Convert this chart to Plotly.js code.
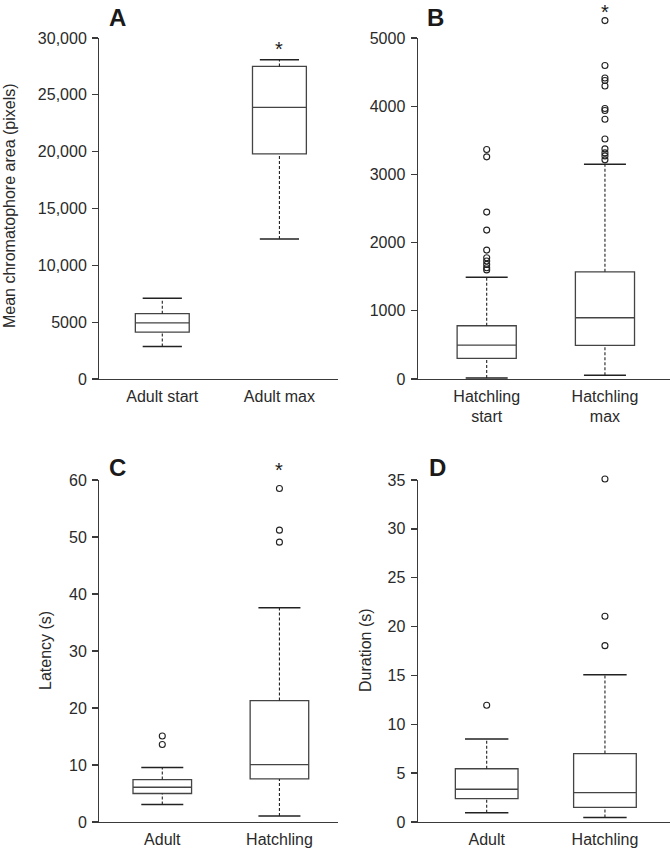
<!DOCTYPE html>
<html>
<head>
<meta charset="utf-8">
<script src="https://cdn.plot.ly/plotly-3.0.1.min.js"></script>
<style>html,body{margin:0;padding:0;background:#fff}#chart{width:670px;height:850px}</style>
</head>
<body>
<div id="chart"></div>
<script>
// ---------- Data ----------
// Panel A
const catsA = ['Adult start', 'Adult max'];
const q1A = [4120, 19800];
const medA = [4930, 23900];
const q3A = [5750, 27500];
const loA = [2850, 12320];
const hiA = [7100, 28080];
const outXA = [];
const outYA = [];
// Panel B
const catsB = ['Hatchling<br>start', 'Hatchling<br>max'];
const q1B = [303, 493];
const medB = [498, 898];
const q3B = [781, 1572];
const loB = [15, 54];
const hiB = [1492, 3150];
const outXB = ['Hatchling<br>start','Hatchling<br>start','Hatchling<br>start','Hatchling<br>start','Hatchling<br>start','Hatchling<br>start','Hatchling<br>start','Hatchling<br>start','Hatchling<br>start','Hatchling<br>start',
               'Hatchling<br>max','Hatchling<br>max','Hatchling<br>max','Hatchling<br>max','Hatchling<br>max','Hatchling<br>max','Hatchling<br>max','Hatchling<br>max','Hatchling<br>max','Hatchling<br>max','Hatchling<br>max','Hatchling<br>max','Hatchling<br>max'];
const outYB = [3365, 3257, 2447, 2183, 1890, 1777, 1730, 1680, 1631, 1600,
               5255, 4596, 4414, 4376, 4297, 3966, 3937, 3809, 3520, 3374, 3315, 3271, 3213];
// Panel C
const catsC = ['Adult', 'Hatchling'];
const q1C = [5.0, 7.55];
const medC = [6.1, 10.05];
const q3C = [7.45, 21.3];
const loC = [3.05, 1.05];
const hiC = [9.55, 37.6];
const outXC = ['Adult','Adult','Hatchling','Hatchling','Hatchling'];
const outYC = [15.1, 13.6, 58.5, 51.2, 49.1];
// Panel D
const catsD = ['Adult', 'Hatchling'];
const q1D = [2.4, 1.5];
const medD = [3.35, 3.0];
const q3D = [5.45, 7.0];
const loD = [0.95, 0.45];
const hiD = [8.5, 15.07];
const outXD = ['Adult','Hatchling','Hatchling','Hatchling'];
const outYD = [11.95, 18.05, 21.05, 35.1];

const tickValsA = [0, 5000, 10000, 15000, 20000, 25000, 30000];
const tickTextA = ['0', '5000', '10,000', '15,000', '20,000', '25,000', '30,000'];
const tickValsB = [0, 1000, 2000, 3000, 4000, 5000];
const tickValsC = [0, 10, 20, 30, 40, 50, 60];
const tickValsD = [0, 5, 10, 15, 20, 25, 30, 35];

// significance markers
const starA = {cat: 'Adult max', y: 29000};
const starB = {cat: 'Hatchling<br>max', y: 5384};
const starC = {cat: 'Hatchling', y: 61.7};

// ---------- Helpers ----------
const W = 670, H = 850;
const px = v => v / W;
const py = v => 1 - v / H;
const FONT = 'Liberation Sans, Arial, sans-serif';
const TXT = '#2a2a2a';
const LINE = '#3a3a3a';

function panel(xa, ya, cats, q1, med, q3, lo, hi, outX, outY, boxW, capPx) {
  const traces = [];
  traces.push({
    type: 'box', xaxis: xa, yaxis: ya, x: cats,
    q1: q1, median: med, q3: q3, lowerfence: q1, upperfence: q3,
    width: boxW, whiskerwidth: 0,
    fillcolor: 'rgba(255,255,255,0)',
    line: {color: '#444', width: 1.3},
    boxpoints: false, hoverinfo: 'skip'
  });
  const wx = [], wy = [];
  cats.forEach((c, i) => {
    wx.push(c, c, null, c, c, null);
    wy.push(lo[i], q1[i], null, q3[i], hi[i], null);
  });
  traces.push({
    type: 'scatter', mode: 'lines', xaxis: xa, yaxis: ya, x: wx, y: wy,
    line: {color: '#222', width: 1.1, dash: '3px,2px'}, connectgaps: false, hoverinfo: 'skip'
  });
  traces.push({
    type: 'scatter', mode: 'markers', xaxis: xa, yaxis: ya,
    x: cats.concat(cats), y: lo.concat(hi), cliponaxis: false,
    marker: {symbol: 'line-ew', size: capPx, color: '#222', line: {color: '#222', width: 1.5}},
    hoverinfo: 'skip'
  });
  if (outX.length) {
    traces.push({
      type: 'scatter', mode: 'markers', xaxis: xa, yaxis: ya, x: outX, y: outY, cliponaxis: false,
      marker: {symbol: 'circle-open', size: 6, color: '#222', line: {color: '#222', width: 1.1}},
      hoverinfo: 'skip'
    });
  }
  return traces;
}

// dummy traces to make sure the visible axis pairs form subplots
const dummies = [['x','y',catsA],['x2','y2',catsB],['x3','y3',catsC],['x4','y4',catsD]].map(d => ({
  type: 'scatter', mode: 'markers', xaxis: d[0], yaxis: d[1], x: d[2], y: [null, null],
  marker: {opacity: 0}, hoverinfo: 'skip'
}));

const data = [].concat(
  dummies,
  panel('x', 'y5', catsA, q1A, medA, q3A, loA, hiA, outXA, outYA, 0.46, 28),
  panel('x2', 'y6', catsB, q1B, medB, q3B, loB, hiB, outXB, outYB, 0.5, 30),
  panel('x3', 'y7', catsC, q1C, medC, q3C, loC, hiC, outXC, outYC, 0.5, 30),
  panel('x4', 'y8', catsD, q1D, medD, q3D, loD, hiD, outXD, outYD, 0.53, 31)
);

function xAxis(dom, range, yname) {
  return {
    domain: dom, range: range, anchor: yname, type: 'category',
    showline: true, linecolor: LINE, linewidth: 1.3, ticks: '', showgrid: false, zeroline: false,
    tickfont: {family: FONT, size: 16, color: TXT}, ticklabelstandoff: 2, fixedrange: true
  };
}
function yAxis(dom, range, pos, tv, tt) {
  const a = {
    domain: dom, range: range, anchor: 'free', position: pos,
    showline: true, linecolor: LINE, linewidth: 1.3, ticks: 'outside', ticklen: 6, tickwidth: 1.3, tickcolor: LINE,
    showgrid: false, zeroline: false, tickvals: tv,
    tickfont: {family: FONT, size: 16, color: TXT}, ticklabelstandoff: 2, fixedrange: true
  };
  if (tt) a.ticktext = tt;
  return a;
}
// hidden data axis: same scale as the visible one but a taller domain, so marks above the top tick are not clipped
function dataAxis(botPx, topPx, extTopPx, maxVal) {
  const scale = (botPx - extTopPx) / (botPx - topPx);
  return {domain: [py(botPx), py(extTopPx)], range: [0, maxVal * scale], anchor: 'free', position: 0,
    visible: false, fixedrange: true};
}

const topDom = [py(379), py(38)];
const botDom = [py(822), py(480)];
const leftX = [px(92), px(338)];
const rightX = [px(411), 1];
const lrange = [-0.6, 1.5];
const rrange = [-0.64, 1.55];

const ann = [];
function letter(t, x, y) {
  ann.push({text: t, xref: 'paper', yref: 'paper', x: px(x), y: py(y), xanchor: 'center', yanchor: 'middle',
    showarrow: false, font: {family: FONT, size: 24, color: '#1a1a1a'}});
}
letter('<b>A</b>', 117, 17);
letter('<b>B</b>', 435, 17);
letter('<b>C</b>', 118, 468);
letter('<b>D</b>', 437, 468);
function ytitle(t, x, y) {
  ann.push({text: t, xref: 'paper', yref: 'paper', x: px(x), y: py(y), xanchor: 'center', yanchor: 'middle',
    textangle: -90, showarrow: false, font: {family: FONT, size: 16, color: TXT}});
}
ytitle('Mean chromatophore area (pixels)', 10, 206);
ytitle('Latency (s)', 45, 651);
ytitle('Duration (s)', 365, 650);
function star(xr, yr, s) {
  ann.push({text: '*', xref: xr, yref: yr, x: s.cat, y: s.y, xanchor: 'center', yanchor: 'middle',
    showarrow: false, font: {family: FONT, size: 20, color: '#1a1a1a'}});
}
star('x', 'y5', starA);
star('x2', 'y6', starB);
star('x3', 'y7', starC);

const layout = {
  width: W, height: H, margin: {l: 0, r: 0, t: 0, b: 0},
  paper_bgcolor: '#fff', plot_bgcolor: 'rgba(0,0,0,0)', showlegend: false,
  font: {family: FONT, color: TXT},
  xaxis: xAxis(leftX, lrange, 'y'),
  yaxis: yAxis(topDom, [0, 30000], px(98), tickValsA, tickTextA),
  xaxis2: xAxis(rightX, rrange, 'y2'),
  yaxis2: yAxis(topDom, [0, 5000], px(416.5), tickValsB),
  xaxis3: xAxis(leftX, lrange, 'y3'),
  yaxis3: yAxis(botDom, [0, 60], px(98), tickValsC),
  xaxis4: xAxis(rightX, rrange, 'y4'),
  yaxis4: yAxis(botDom, [0, 35], px(416.5), tickValsD),
  yaxis5: dataAxis(379, 38, 0, 30000),
  yaxis6: dataAxis(379, 38, 0, 5000),
  yaxis7: dataAxis(822, 480, 440, 60),
  yaxis8: dataAxis(822, 480, 440, 35),
  annotations: ann
};

Plotly.newPlot('chart', data, layout, {displayModeBar: false, staticPlot: true});
</script>
</body>
</html>
